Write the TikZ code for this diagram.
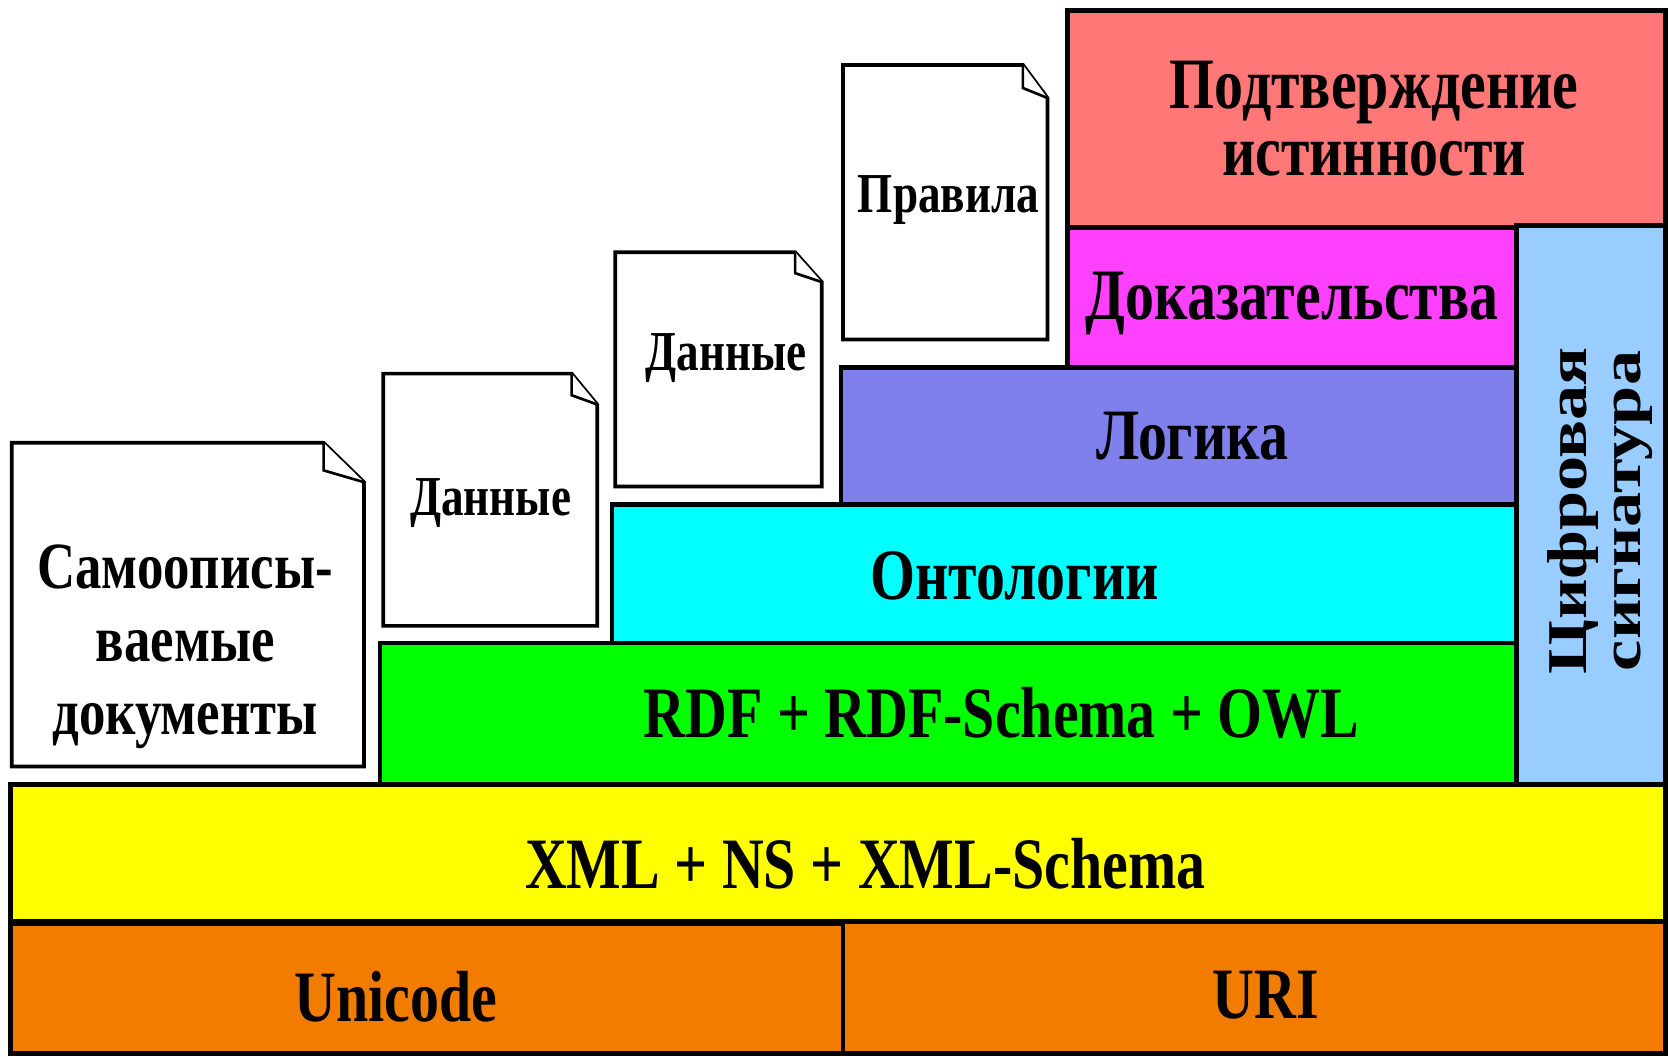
\documentclass[tikz,border=0pt]{standalone}
\usepackage{fontspec}
\setmainfont[FakeStretch=0.8]{Liberation Serif}
\newfontfamily\sigfont{Liberation Serif}
\usepackage{graphicx}
\definecolor{cTrust}{HTML}{FF7777}
\definecolor{cProof}{HTML}{FF40FF}
\definecolor{cLogic}{HTML}{8080EC}
\definecolor{cOnto}{HTML}{00FFFF}
\definecolor{cRdf}{HTML}{00FF00}
\definecolor{cXml}{HTML}{FFFF00}
\definecolor{cBase}{HTML}{F27C00}
\definecolor{cSig}{HTML}{99CCFF}
\newcommand\mydoc[6]{%
  \draw[docpath] (#1,#2) -- ({#3-#5},#2) -- (#3,{#2+#6}) -- (#3,#4) -- (#1,#4) -- cycle;
  \draw[docpath, line width=2.5pt] ({#3-#5},#2) -- ({#3-#5},{#2+0.7*#6}) -- (#3,{#2+#6});
}
\begin{document}
\begin{tikzpicture}[x=1pt,y=-1pt,
  box/.style={draw=black, line width=4.5pt, rectangle, inner sep=0pt, outer sep=0pt, anchor=north west},
  lbl/.style={font=\fontsize{68}{63}\selectfont\bfseries, inner sep=0pt, anchor=base},
  doclbl/.style={font=\fontsize{53}{60}\selectfont\bfseries, inner sep=0pt, anchor=base},
  docpath/.style={draw=black, line width=3.5pt, fill=white, line join=miter}
]
\useasboundingbox (0,0) rectangle (1568,993);
% documents
\mydoc{11}{416}{342}{720}{38}{37}
\mydoc{360}{351}{561}{588}{24}{29}
\mydoc{578}{237}{772}{457}{25}{28}
\mydoc{792}{61}{984}{319}{23}{31}
% layers
\node (unicode) [box, fill=cBase, minimum width=782pt, minimum height=122pt] at (10,868) {};
\node (uri) [box, fill=cBase, minimum width=773pt, minimum height=125pt] at (792,865) {};
\node (xml) [box, fill=cXml, minimum width=1555pt, minimum height=129pt] at (10,737) {};
\node (rdf) [box, fill=cRdf, minimum width=1068pt, minimum height=133pt] at (357,604) {};
\node (onto) [box, fill=cOnto, minimum width=850pt, minimum height=130pt] at (575,474) {};
\node (logic) [box, fill=cLogic, minimum width=635pt, minimum height=129pt] at (790,345) {};
\node (proof) [box, fill=cProof, minimum width=422pt, minimum height=131pt] at (1003,214) {};
\node (trust) [box, fill=cTrust, minimum width=562pt, minimum height=204pt] at (1003,10) {};
\node (sig) [box, fill=cSig, minimum width=140pt, minimum height=525pt] at (1425,212) {};
% labels
\node (tUnicode) [lbl] at (372,960) {Unicode};
\node (tUri) [lbl] at (1189,957) {URI};
\node (tXml) [lbl] at (813,835) {XML + NS + XML-Schema};
\node (tRdf) [lbl] at (941,693) {RDF + RDF-Schema + OWL};
\node (tOnto) [lbl] at (953,563) {Онтологии};
\node (tLogic) [lbl] at (1120,432) {Логика};
\node (tProof) [lbl] at (1214,300) {Доказательства};
\node (tTrust) [inner sep=0pt, font=\fontsize{68}{63}\selectfont\bfseries] at (1291,121)
  {\begin{tabular}{@{}c@{}}Подтверждение\\истинности\end{tabular}};
\node (tSig) [inner sep=0pt, rotate=90] at (1505,480)
  {\scalebox{1}[0.8]{\sigfont\bfseries\fontsize{66}{64}\selectfont\begin{tabular}{@{}c@{}}Цифровая\\сигнатура\end{tabular}}};
\node (tRules) [doclbl] at (891,200) {Правила};
\node (tData3) [doclbl] at (682,348) {Данные};
\node (tData2) [doclbl] at (461,484) {Данные};
\node (tSelf) [inner sep=0pt, font=\fontsize{62}{68.5}\selectfont\bfseries] at (174,608)
  {\begin{tabular}{@{}c@{}}Самоописы-\\ваемые\\документы\end{tabular}};
\end{tikzpicture}
\end{document}
